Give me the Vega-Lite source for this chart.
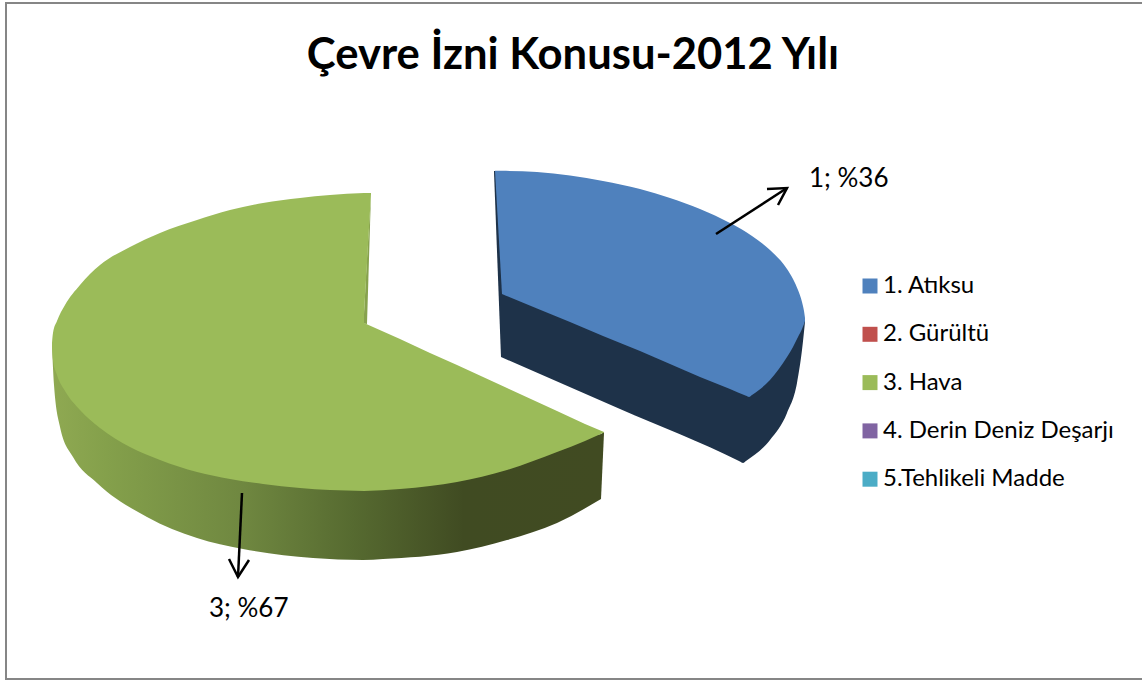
{
"$schema":"https://vega.github.io/schema/vega-lite/v6.json",
"width":1142,"height":681,"padding":0,"autosize":"none",
"background":"#ffffff",
"title":{"text":"Çevre İzni Konusu-2012 Yılı","font":"Lato","fontSize":43.6,"fontWeight":"bold","color":"#000000","anchor":"middle","frame":"group","dx":2,"offset":-89},
"config":{"view":{"stroke":null}},
"datasets":{
"cerceve":[{"x":6,"x2":1146,"y":3,"y2":679}],
"kama_koyu":[{"x":494,"y":171,"y2":172},{"x":501,"y":171,"y2":357}],
"kama_mavi":[{"x":495,"y":170.7,"y2":171},{"x":502,"y":170.8,"y2":294}],
"kama_yesil":[{"x":601,"y":434,"y2":499},{"x":604,"y":432,"y2":433}],
"yan_mavi":[
{"x":501,"y":171,"y2":357},{"x":620,"y":290,"y2":409},{"x":740,"y":300,"y2":461.5},{"x":743,"y":300,"y2":463},{"x":746,"y":300,"y2":461},{"x":770,"y":320,"y2":440},{"x":787,"y":320,"y2":413},{"x":797,"y":320,"y2":383},{"x":802,"y":318,"y2":350},{"x":805,"y":318,"y2":322}],
"yan_yesil":[
{"x":52,"y":343,"y2":345},{"x":54,"y":345,"y2":385},{"x":60,"y":360,"y2":427},{"x":73,"y":380,"y2":457},{"x":97,"y":405,"y2":483},{"x":147,"y":440,"y2":517},{"x":197,"y":460,"y2":538},{"x":243,"y":475,"y2":549},{"x":313,"y":480,"y2":558},{"x":363,"y":485,"y2":560},{"x":383,"y":485,"y2":559},{"x":457,"y":475,"y2":552},{"x":507,"y":460,"y2":540},{"x":557,"y":445,"y2":523},{"x":601,"y":434,"y2":499}],
"serit":[{"x":363.5,"y":323,"y2":323.5},{"x":367,"y":258,"y2":324},{"x":371,"y":193,"y2":193.5}],
"yuzey":[
{"konu":"1. Atıksu","parca":"a","x":502,"y":170.8,"y2":294},{"konu":"1. Atıksu","parca":"a","x":537,"y":172,"y2":308.6},{"konu":"1. Atıksu","parca":"a","x":570,"y":175.5,"y2":322},{"konu":"1. Atıksu","parca":"a","x":603,"y":181,"y2":336},{"konu":"1. Atıksu","parca":"a","x":640,"y":189,"y2":351},{"konu":"1. Atıksu","parca":"a","x":670,"y":198,"y2":364},{"konu":"1. Atıksu","parca":"a","x":700,"y":209,"y2":377},{"konu":"1. Atıksu","parca":"a","x":730,"y":223,"y2":389},{"konu":"1. Atıksu","parca":"a","x":746,"y":232,"y2":395.8},{"konu":"1. Atıksu","parca":"a","x":749,"y":234,"y2":397},{"konu":"1. Atıksu","parca":"a","x":752,"y":236,"y2":395},{"konu":"1. Atıksu","parca":"a","x":770,"y":250,"y2":380},{"konu":"1. Atıksu","parca":"a","x":787,"y":269,"y2":357},{"konu":"1. Atıksu","parca":"a","x":793,"y":279,"y2":347},{"konu":"1. Atıksu","parca":"a","x":798,"y":290,"y2":337},{"konu":"1. Atıksu","parca":"a","x":802,"y":302,"y2":329},{"konu":"1. Atıksu","parca":"a","x":804,"y":311,"y2":324},{"konu":"1. Atıksu","parca":"a","x":805,"y":318,"y2":321},
{"konu":"3. Hava","parca":"b","x":52,"y":343,"y2":345},{"konu":"3. Hava","parca":"b","x":53,"y":333,"y2":360},{"konu":"3. Hava","parca":"b","x":57,"y":321,"y2":375},{"konu":"3. Hava","parca":"b","x":65,"y":305,"y2":391},{"konu":"3. Hava","parca":"b","x":80,"y":285,"y2":410},{"konu":"3. Hava","parca":"b","x":100,"y":265,"y2":428},{"konu":"3. Hava","parca":"b","x":130,"y":247,"y2":447},{"konu":"3. Hava","parca":"b","x":160,"y":233,"y2":460},{"konu":"3. Hava","parca":"b","x":197,"y":220,"y2":472},{"konu":"3. Hava","parca":"b","x":230,"y":210,"y2":479},{"konu":"3. Hava","parca":"b","x":263,"y":203,"y2":484},{"konu":"3. Hava","parca":"b","x":300,"y":198,"y2":488},{"konu":"3. Hava","parca":"b","x":330,"y":195,"y2":490},{"konu":"3. Hava","parca":"b","x":364,"y":193,"y2":491},
{"konu":"3. Hava","parca":"c","x":364,"y":323,"y2":491},{"konu":"3. Hava","parca":"c","x":400,"y":339,"y2":489},{"konu":"3. Hava","parca":"c","x":430,"y":353,"y2":486},{"konu":"3. Hava","parca":"c","x":457,"y":365,"y2":482},{"konu":"3. Hava","parca":"c","x":507,"y":388,"y2":470},{"konu":"3. Hava","parca":"c","x":557,"y":411,"y2":452},{"konu":"3. Hava","parca":"c","x":585,"y":424,"y2":441},{"konu":"3. Hava","parca":"c","x":604,"y":432,"y2":432.5},
{"konu":"2. Gürültü","parca":"e","x":0,"y":-10,"y2":-10},{"konu":"4. Derin Deniz Deşarjı","parca":"f","x":0,"y":-10,"y2":-10},{"konu":"5.Tehlikeli Madde","parca":"g","x":0,"y":-10,"y2":-10}],
"kama_hava":[{"x":363.5,"y":193,"y2":323},{"x":371,"y":193,"y2":193.5}],
"oklar":[
{"ok":"g1","s":1,"x":716,"y":234},{"ok":"g1","s":2,"x":787,"y":188},
{"ok":"h1","s":1,"x":767,"y":189},{"ok":"h1","s":2,"x":787,"y":188},{"ok":"h1","s":3,"x":778,"y":205},
{"ok":"g2","s":1,"x":242,"y":493},{"ok":"g2","s":2,"x":238,"y":577},
{"ok":"h2","s":1,"x":229,"y":559},{"ok":"h2","s":2,"x":238,"y":577},{"ok":"h2","s":3,"x":249,"y":560}],
"etiket":[{"metin":"1; %36","x":809,"y":179},{"metin":"3; %67","x":209,"y":609}]
},
"encoding":{
"x":{"field":"x","type":"quantitative","axis":null,"scale":{"domain":[0,1142],"nice":false,"zero":false}},
"y":{"field":"y","type":"quantitative","axis":null,"scale":{"domain":[0,681],"reverse":true,"nice":false,"zero":false}}
},
"layer":[
{"data":{"name":"cerceve"},"mark":{"type":"rect","fill":"#ffffff","stroke":"#868686","strokeWidth":2},"encoding":{"x2":{"field":"x2"},"y2":{"field":"y2"}}},
{"data":{"name":"kama_koyu"},"mark":{"type":"area","fill":"#1e3249"},"encoding":{"y2":{"field":"y2"}}},
{"data":{"name":"yan_mavi"},"mark":{"type":"area","fill":"#1e3249","interpolate":"monotone"},"encoding":{"y2":{"field":"y2"}}},
{"data":{"name":"kama_yesil"},"mark":{"type":"area","fill":"#414b22"},"encoding":{"y2":{"field":"y2"}}},
{"data":{"name":"yan_yesil"},"mark":{"type":"area","interpolate":"monotone","color":{"gradient":"linear","x1":0,"y1":0,"x2":1,"y2":0,"stops":[{"offset":0,"color":"#8fa952"},{"offset":0.1,"color":"#84a04b"},{"offset":0.35,"color":"#6f8740"},{"offset":0.55,"color":"#566a30"},{"offset":0.75,"color":"#404b22"},{"offset":1,"color":"#414b22"}]}},"encoding":{"y2":{"field":"y2"}}},
{"data":{"name":"serit"},"mark":{"type":"area","fill":"#87a24e"},"encoding":{"y2":{"field":"y2"}}},
{"data":{"name":"kama_mavi"},"mark":{"type":"area","fill":"#4f81bd"},"encoding":{"y2":{"field":"y2"}}},
{"data":{"name":"kama_hava"},"mark":{"type":"area","fill":"#9bbb59"},"encoding":{"y2":{"field":"y2"}}},
{"data":{"name":"yuzey"},"mark":{"type":"area","opacity":1,"interpolate":"monotone"},"encoding":{"y2":{"field":"y2"},"detail":{"field":"parca"},"color":{"field":"konu","type":"nominal","scale":{"domain":["1. Atıksu","2. Gürültü","3. Hava","4. Derin Deniz Deşarjı","5.Tehlikeli Madde"],"range":["#4f81bd","#c0504d","#9bbb59","#8064a2","#4bacc6"]},"legend":{"title":null,"orient":"none","legendX":858,"legendY":274,"symbolType":"square","symbolSize":225,"symbolStrokeWidth":0,"symbolOpacity":1,"labelFont":"Lato","labelFontSize":24,"labelColor":"#000000","labelOffset":1,"rowPadding":24.3,"labelLimit":300}}}},
{"data":{"name":"oklar"},"mark":{"type":"line","color":"#000000","strokeWidth":2.5},"encoding":{"detail":{"field":"ok"},"order":{"field":"s"}}},
{"data":{"name":"etiket"},"mark":{"type":"text","font":"Lato","fontSize":26,"align":"left","baseline":"middle","color":"#000000"},"encoding":{"text":{"field":"metin"}}}
]
}
